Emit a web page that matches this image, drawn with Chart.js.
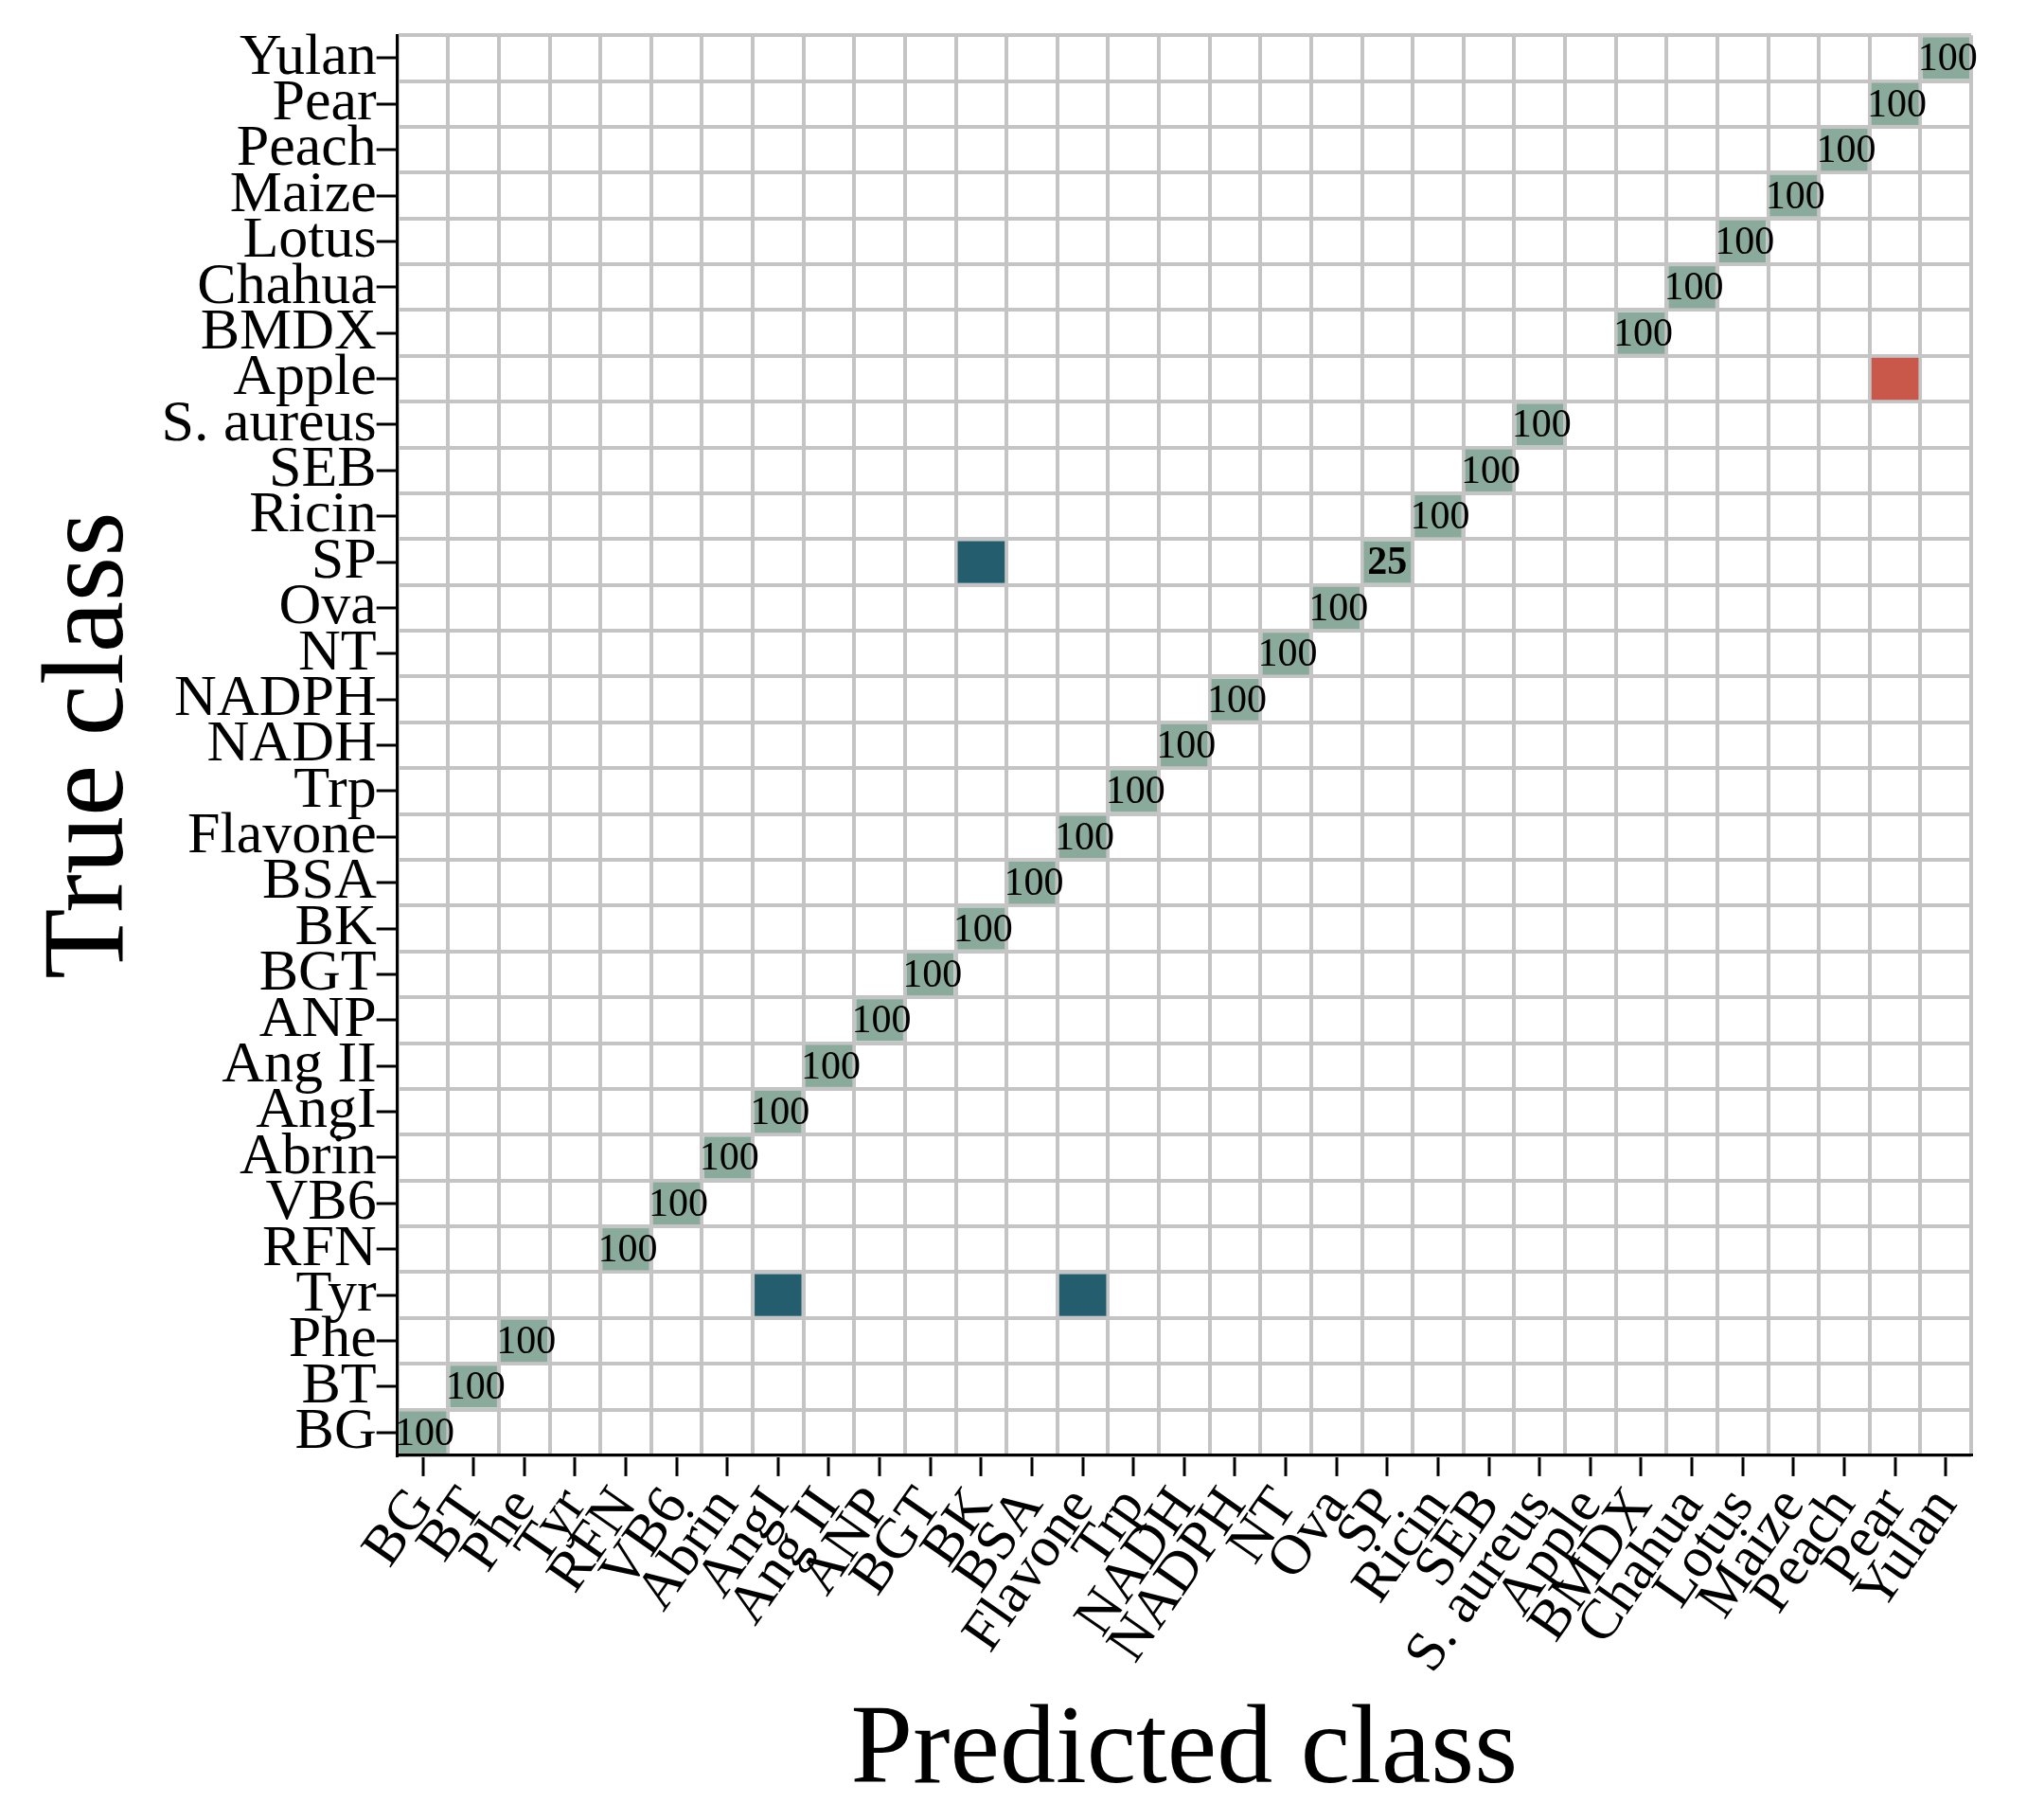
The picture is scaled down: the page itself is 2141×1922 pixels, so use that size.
<!DOCTYPE html>
<html>
<head>
<meta charset="utf-8">
<script src="https://cdn.jsdelivr.net/npm/chart.js@4"></script>
<style>
  body { margin: 0; background: #fff; }
  #wrap { width: 2141px; height: 1922px; }
</style>
</head>
<body>
<div id="wrap"><canvas id="myChart"></canvas></div>
<script>
// 클래스 이름 (아래에서 위로, 왼쪽에서 오른쪽으로)
const classes = ['BG', 'BT', 'Phe', 'Tyr', 'RFN', 'VB6', 'Abrin', 'AngI', 'Ang II', 'ANP', 'BGT', 'BK', 'BSA',
  'Flavone', 'Trp', 'NADH', 'NADPH', 'NT', 'Ova', 'SP', 'Ricin', 'SEB', 'S. aureus', 'Apple', 'BMDX',
  'Chahua', 'Lotus', 'Maize', 'Peach', 'Pear', 'Yulan'];

// 0이 아닌 셀: 실제 클래스, 예측 클래스, 값(%)
const trueCls = ['BG', 'BT', 'Phe', 'Tyr', 'Tyr', 'RFN', 'VB6', 'Abrin', 'AngI', 'Ang II', 'ANP', 'BGT', 'BK', 'BSA',
  'Flavone', 'Trp', 'NADH', 'NADPH', 'NT', 'Ova', 'SP', 'SP', 'Ricin', 'SEB', 'S. aureus', 'Apple', 'BMDX',
  'Chahua', 'Lotus', 'Maize', 'Peach', 'Pear', 'Yulan'];
const predCls = ['BG', 'BT', 'Phe', 'AngI', 'Flavone', 'RFN', 'VB6', 'Abrin', 'AngI', 'Ang II', 'ANP', 'BGT', 'BK', 'BSA',
  'Flavone', 'Trp', 'NADH', 'NADPH', 'NT', 'Ova', 'BK', 'SP', 'Ricin', 'SEB', 'S. aureus', 'Pear', 'BMDX',
  'Chahua', 'Lotus', 'Maize', 'Peach', 'Pear', 'Yulan'];
const cellValues = [100, 100, 100, 50, 50, 100, 100, 100, 100, 100, 100, 100, 100, 100,
  100, 100, 100, 100, 100, 100, 75, 25, 100, 100, 100, 100, 100,
  100, 100, 100, 100, 100, 100];

const points = trueCls.map((t, i) => ({
  x: classes.indexOf(predCls[i]),
  y: classes.indexOf(t),
  v: cellValues[i]
}));

function cellColor(p) {
  if (p.x === p.y) return '#8aab9b';
  if (p.y === classes.indexOf('Apple')) return '#c9574a';
  return '#245e6e';
}

// 셀 그리기 (스케일 좌표 사용)
const cellPlugin = {
  id: 'cells',
  afterDatasetsDraw(chart) {
    const { ctx, scales: { x, y } } = chart;
    const pts = chart.data.datasets[0].data;
    ctx.save();
    pts.forEach(p => {
      const x0 = x.getPixelForValue(p.x - 0.5), x1 = x.getPixelForValue(p.x + 0.5);
      const y0 = y.getPixelForValue(p.y + 0.5), y1 = y.getPixelForValue(p.y - 0.5);
      ctx.fillStyle = cellColor(p);
      ctx.fillRect(x0 + 2, y0 + 2, x1 - x0 - 4, y1 - y0 - 4);
      if (p.x === p.y) {
        ctx.fillStyle = '#000';
        ctx.font = (p.v === 100 ? '' : 'bold ') + '42px "Liberation Serif"';
        ctx.textAlign = 'center';
        ctx.textBaseline = 'middle';
        ctx.fillText(String(p.v), (x0 + x1) / 2 + (p.v === 100 ? 2 : 0), (y0 + y1) / 2 + 2);
      }
    });
    ctx.restore();
  }
};

function halfTicks(axis) {
  axis.ticks = [];
  for (let v = -0.5; v <= classes.length - 0.5 + 1e-9; v += 0.5) axis.ticks.push({ value: v });
}
const isCenter = v => Math.abs(v - Math.round(v)) < 1e-6;

const gridOpts = {
  drawOnChartArea: true,
  color: c => (c.tick && isCenter(c.tick.value)) ? 'rgba(0,0,0,0)' : '#c4c4c4',
  tickColor: c => (c.tick && isCenter(c.tick.value)) ? '#000' : 'rgba(0,0,0,0)',
  lineWidth: 4,
  tickWidth: 3,
  tickLength: 22
};

const ctx = document.getElementById('myChart').getContext('2d');
const myChart = new Chart(ctx, {
  type: 'scatter',
  data: { datasets: [{ data: points, pointRadius: 0, pointHoverRadius: 0 }] },
  options: {
    responsive: true,
    maintainAspectRatio: false,
    animation: false,
    events: [],
    layout: { padding: { top: 26, right: 0, left: 20, bottom: 0 } },
    plugins: { legend: { display: false }, tooltip: { enabled: false } },
    scales: {
      x: {
        type: 'linear', min: -0.5, max: classes.length - 0.5,
        afterBuildTicks: halfTicks,
        grid: gridOpts,
        border: { color: '#000', width: 3 },
        ticks: {
          autoSkip: false, maxRotation: 55, minRotation: 55, padding: 0,
          color: '#000', font: { family: 'Liberation Serif', size: 60 },
          callback: v => isCenter(v) ? classes[Math.round(v)] : ''
        },
        title: { display: true, text: 'Predicted class', color: '#000', padding: { top: 0, bottom: 0 },
          font: { family: 'Liberation Serif', size: 118 } }
      },
      y: {
        type: 'linear', min: -0.5, max: classes.length - 0.5,
        afterBuildTicks: halfTicks,
        grid: gridOpts,
        border: { color: '#000', width: 3 },
        ticks: {
          autoSkip: false, padding: 0,
          color: '#000', font: { family: 'Liberation Serif', size: 62 },
          callback: v => isCenter(v) ? classes[Math.round(v)] : ''
        },
        title: { display: true, text: 'True class', color: '#000', padding: { bottom: 0 },
          font: { family: 'Liberation Serif', size: 122 } }
      }
    }
  },
  plugins: [cellPlugin]
});
</script>
</body>
</html>
